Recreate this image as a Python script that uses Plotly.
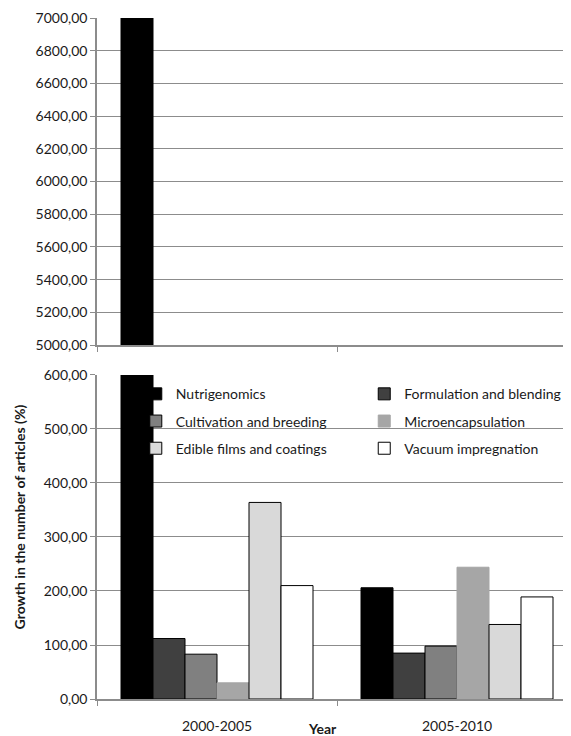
import plotly.graph_objects as go

categories = ["2000-2005", "2005-2010"]
series_names = ["Nutrigenomics", "Formulation and blending", "Cultivation and breeding",
                "Microencapsulation", "Edible films and coatings", "Vacuum impregnation"]
nutrigenomics = [7000, 206]
formulation = [112, 85]
cultivation = [83, 98]
microencapsulation = [30, 244]
edible = [364, 138]
vacuum = [210, 189]
series_values = [nutrigenomics, formulation, cultivation, microencapsulation, edible, vacuum]
fill_colors = ["#000000", "#404040", "#808080", "#a6a6a6", "#d9d9d9", "#ffffff"]
line_colors = ["#000000", "#000000", "#000000", "#a6a6a6", "#000000", "#000000"]
legend_ids = ["legend", "legend2", "legend", "legend2", "legend", "legend2"]

FONT = "Lato"
GRID = "#8c8c8c"
TXT = "#1a1a1a"

fig = go.Figure()
for i, (name, vals) in enumerate(zip(series_names, series_values)):
    # lower panel
    fig.add_trace(go.Bar(
        x=categories, y=vals, name=name, xaxis="x", yaxis="y",
        marker=dict(color=fill_colors[i], line=dict(color=line_colors[i], width=1)),
        legend=legend_ids[i], legendgroup=name, showlegend=True,
    ))
    # upper panel
    fig.add_trace(go.Bar(
        x=categories, y=vals, name=name, xaxis="x2", yaxis="y2",
        marker=dict(color=fill_colors[i], line=dict(color=line_colors[i], width=1)),
        legendgroup=name, showlegend=False,
    ))

# the original plot area runs slightly past the right edge of the picture
x_range = [-0.5, 1.4708]
axis_common = dict(showgrid=False, showline=True, linecolor=GRID, linewidth=1.5,
                   ticks="outside", ticklen=5, tickcolor=GRID, tickson="boundaries",
                   type="category", range=x_range)
yaxis_common = dict(showgrid=True, gridcolor=GRID, gridwidth=1, showline=True,
                    linecolor=GRID, linewidth=1.5, ticks="outside", ticklen=5,
                    tickcolor=GRID, tickformat=".2f", zeroline=False,
                    tickfont=dict(family=FONT, size=14, color=TXT))

# page body has an 8px margin, so the figure is sized/offset to compensate
fig.update_layout(
    width=563, height=728,
    margin=dict(l=89, r=1, t=8, b=37),
    paper_bgcolor="white", plot_bgcolor="white",
    separators=",.",
    barmode="group", bargap=0.2, bargroupgap=0,
    font=dict(family=FONT, size=14, color=TXT),
    xaxis=dict(**axis_common, domain=[0, 1], anchor="y", showticklabels=False),
    yaxis=dict(**yaxis_common, domain=[0, 0.4758], range=[0, 600], dtick=100, anchor="x"),
    xaxis2=dict(**axis_common, domain=[0, 1], anchor="y2", showticklabels=False),
    yaxis2=dict(**yaxis_common, domain=[0.5198, 1], range=[5000, 7000], dtick=200, anchor="x2"),
    legend=dict(x=0.082, y=0.471, xanchor="left", yanchor="top", bgcolor="rgba(0,0,0,0)",
                tracegroupgap=6, font=dict(family=FONT, size=14, color=TXT),
                itemclick=False),
    legend2=dict(x=0.565, y=0.471, xanchor="left", yanchor="top", bgcolor="rgba(0,0,0,0)",
                 tracegroupgap=6, font=dict(family=FONT, size=14, color=TXT),
                 itemclick=False),
    showlegend=True,
)

# category labels and axis titles
for c in categories:
    fig.add_annotation(x=c, y=0, xref="x", yref="paper", yanchor="top", xanchor="center",
                       yshift=-16, text=c, showarrow=False,
                       font=dict(family=FONT, size=14, color=TXT))
fig.add_annotation(x=0.476, y=0, xref="paper", yref="paper", yanchor="top", xanchor="center",
                   yshift=-19, text="<b>Year</b>", showarrow=False,
                   font=dict(family=FONT, size=14, color=TXT))
fig.add_annotation(x=-0.163, y=0.268, xref="paper", yref="paper", textangle=-90,
                   xanchor="center", yanchor="middle",
                   text="<b>Growth in the number of articles (%)</b>", showarrow=False,
                   font=dict(family=FONT, size=14, color=TXT))

fig.write_html("out.html")
